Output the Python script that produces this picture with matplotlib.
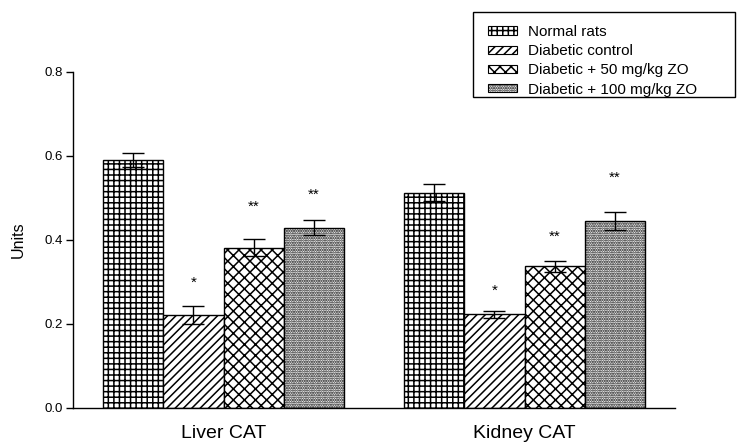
import numpy as np
import matplotlib.pyplot as plt
from matplotlib.patches import Patch, Rectangle

plt.rcParams['font.family'] = ['Liberation Sans', 'DejaVu Sans']
plt.rcParams['hatch.linewidth'] = 1.1

groups = ['Liver CAT', 'Kidney CAT']
series = ['Normal rats', 'Diabetic control',
          'Diabetic + 50 mg/kg ZO', 'Diabetic + 100 mg/kg ZO']
hatches = ['+++', '////', 'xxx', '.......']

# mean and SEM per series, [liver, kidney]
normal = [0.590, 0.513]
normal_err = [0.016, 0.021]
diabetic = [0.221, 0.223]
diabetic_err = [0.022, 0.009]
zo50 = [0.382, 0.337]
zo50_err = [0.021, 0.012]
zo100 = [0.429, 0.446]
zo100_err = [0.018, 0.021]

# significance marks and where they sit
marks = [['', ''], ['*', '*'], ['**', '**'], ['**', '**']]
mark_y = [[0, 0], [0.298, 0.279], [0.479, 0.408], [0.507, 0.549]]

values = [normal, diabetic, zo50, zo100]
errors = [normal_err, diabetic_err, zo50_err, zo100_err]

fig = plt.figure(figsize=(7.38, 4.46), dpi=100)
ax = fig.add_axes([73 / 738, 38 / 446, 602 / 738, 336 / 446])

x = np.arange(len(groups))
w = 0.2
for i, (vals, errs) in enumerate(zip(values, errors)):
    pos = x + (i - 1.5) * w
    ax.bar(pos, vals, w, color='white', edgecolor='black', linewidth=1.0,
           hatch=hatches[i], label=series[i])
    ax.errorbar(pos, vals, yerr=errs, fmt='none', ecolor='black',
                elinewidth=1.0, capsize=8, capthick=1.0)
    for j in range(len(groups)):
        if marks[i][j]:
            ax.text(pos[j], mark_y[i][j], marks[i][j], ha='center',
                    va='center', fontsize=11)

ax.set_xlim(-0.5, 1.5)
ax.set_ylim(0, 0.8)
ax.set_yticks([0.0, 0.2, 0.4, 0.6, 0.8])
ax.set_yticklabels(['0.0', '0.2', '0.4', '0.6', '0.8'], fontsize=9.5)
ax.set_xticks(x)
ax.set_xticklabels(groups, fontsize=14)
ax.tick_params(axis='x', length=0, pad=12)
ax.tick_params(axis='y', length=5, width=1, direction='out', pad=2)
ax.set_ylabel('Units', fontsize=11.5)
ax.yaxis.set_label_coords(-0.078, 0.5)
for s in ['top', 'right']:
    ax.spines[s].set_visible(False)
for s in ['left', 'bottom']:
    ax.spines[s].set_linewidth(1.0)

# legend box drawn separately so the padding can be uneven
fig.patches.append(Rectangle((473 / 738, 1 - 97 / 446), 262 / 738, 85 / 446,
                             transform=fig.transFigure, facecolor='white',
                             edgecolor='black', linewidth=1.0, zorder=5))
handles = [Patch(facecolor='white', edgecolor='black', hatch=h, linewidth=0.8)
           for h in hatches]
leg = fig.legend(handles, series, loc='upper left',
                 bbox_to_anchor=(488 / 738, 1 - 25 / 446), fontsize=11,
                 frameon=False, handlelength=1.9, handleheight=0.45,
                 handletextpad=0.75, labelspacing=0.34, borderpad=0,
                 borderaxespad=0)
leg.set_zorder(6)

fig.savefig('out.png', dpi=100)
